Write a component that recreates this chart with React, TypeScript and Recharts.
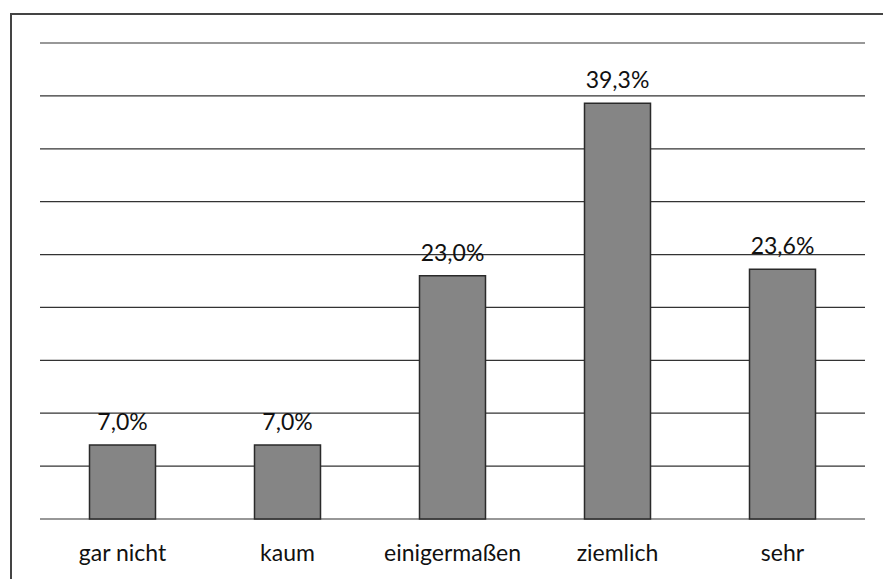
import { BarChart, Bar, XAxis, YAxis, CartesianGrid, LabelList } from "recharts";

const categories = ["gar nicht", "kaum", "einigermaßen", "ziemlich", "sehr"];
const shares = [7.0, 7.0, 23.0, 39.3, 23.6];
const yTicks = [0, 5, 10, 15, 20, 25, 30, 35, 40, 45];

const data = categories.map((name, i) => ({ name, value: shares[i] }));

const fmt = (v: number) => v.toFixed(1).replace(".", ",") + "%";

export default function App() {
  return (
    <div style={{ position: "absolute", left: 0, top: 0, width: 883, height: 579, background: "#fff" }}>
      <div
        style={{
          position: "absolute",
          left: 10,
          top: 13,
          width: 873,
          height: 566,
          borderLeft: "2px solid #444",
          borderTop: "2px solid #444",
        }}
      />
      <BarChart
        width={883}
        height={579}
        data={data}
        margin={{ top: 43, right: 18, left: 40, bottom: 20 }}
        barCategoryGap="30%"
        style={{ fontFamily: "Lato, 'Open Sans', sans-serif" }}
      >
        <CartesianGrid vertical={false} stroke="#333" strokeWidth={1.2} />
        <YAxis hide domain={[0, 45]} ticks={yTicks} />
        <XAxis
          dataKey="name"
          axisLine={false}
          tickLine={false}
          height={40}
          tickMargin={20}
          tick={{ fill: "#111", fontSize: 23 }}
        />
        <Bar dataKey="value" fill="#858585" stroke="#2a2a2a" strokeWidth={1.5} isAnimationActive={false}>
          <LabelList dataKey="value" position="top" offset={15} formatter={(v: any) => fmt(Number(v))} fill="#111" fontSize={23} />
        </Bar>
      </BarChart>
    </div>
  );
}
